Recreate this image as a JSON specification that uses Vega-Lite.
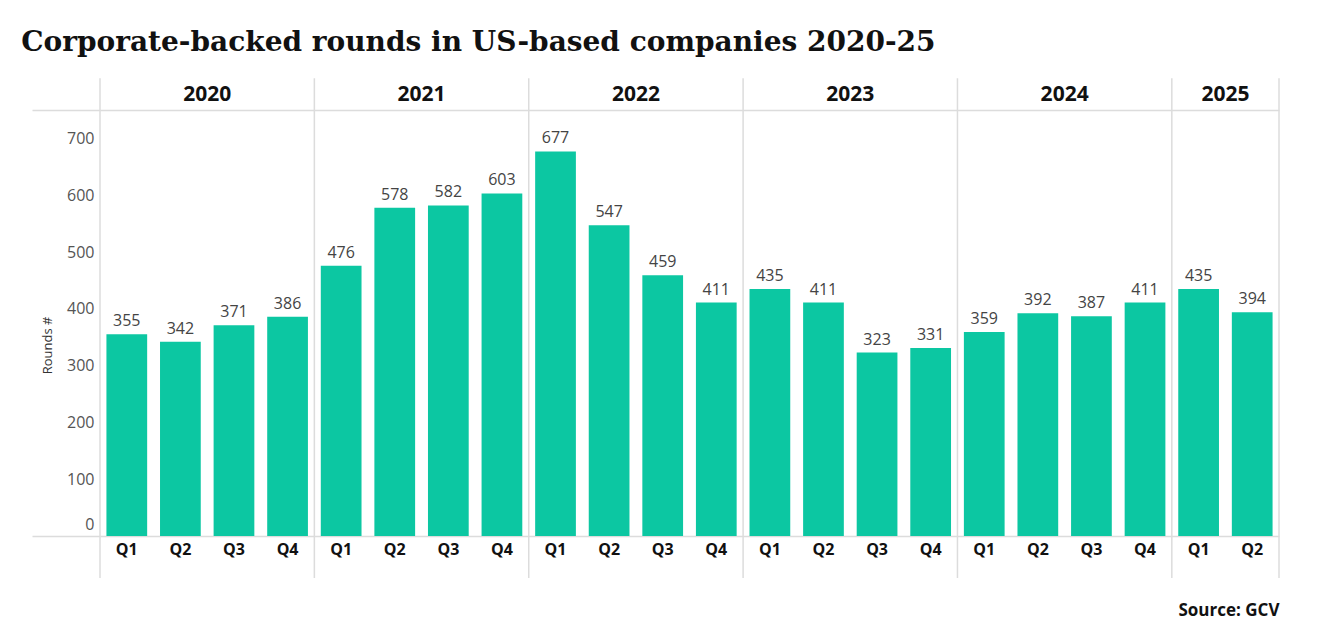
{
  "$schema": "https://vega.github.io/schema/vega-lite/v6.json",
  "autosize": {"type": "none"},
  "padding": {"left": 100, "top": 110, "right": 43, "bottom": 100},
  "width": 1179,
  "height": 426,
  "background": "white",
  "title": {
    "text": "Corporate-backed rounds in US-based companies 2020-25",
    "anchor": "start",
    "font": "DejaVu Serif",
    "fontSize": 28,
    "fontWeight": "bold",
    "color": "#111111",
    "dx": -10,
    "offset": 20
  },
  "config": {"view": {"stroke": null}, "font": "Open Sans"},
  "datasets": {
    "bars": [
      {"q": "2020-Q1", "year": "2020", "value": 355},
      {"q": "2020-Q2", "year": "2020", "value": 342},
      {"q": "2020-Q3", "year": "2020", "value": 371},
      {"q": "2020-Q4", "year": "2020", "value": 386},
      {"q": "2021-Q1", "year": "2021", "value": 476},
      {"q": "2021-Q2", "year": "2021", "value": 578},
      {"q": "2021-Q3", "year": "2021", "value": 582},
      {"q": "2021-Q4", "year": "2021", "value": 603},
      {"q": "2022-Q1", "year": "2022", "value": 677},
      {"q": "2022-Q2", "year": "2022", "value": 547},
      {"q": "2022-Q3", "year": "2022", "value": 459},
      {"q": "2022-Q4", "year": "2022", "value": 411},
      {"q": "2023-Q1", "year": "2023", "value": 435},
      {"q": "2023-Q2", "year": "2023", "value": 411},
      {"q": "2023-Q3", "year": "2023", "value": 323},
      {"q": "2023-Q4", "year": "2023", "value": 331},
      {"q": "2024-Q1", "year": "2024", "value": 359},
      {"q": "2024-Q2", "year": "2024", "value": 392},
      {"q": "2024-Q3", "year": "2024", "value": 387},
      {"q": "2024-Q4", "year": "2024", "value": 411},
      {"q": "2025-Q1", "year": "2025", "value": 435},
      {"q": "2025-Q2", "year": "2025", "value": 394}
    ],
    "years": [
      {"year": "2020", "first": "2020-Q1", "mid": "2020-Q2", "last": "2020-Q4"},
      {"year": "2021", "first": "2021-Q1", "mid": "2021-Q2", "last": "2021-Q4"},
      {"year": "2022", "first": "2022-Q1", "mid": "2022-Q2", "last": "2022-Q4"},
      {"year": "2023", "first": "2023-Q1", "mid": "2023-Q2", "last": "2023-Q4"},
      {"year": "2024", "first": "2024-Q1", "mid": "2024-Q2", "last": "2024-Q4"},
      {"year": "2025", "first": "2025-Q1", "mid": "2025-Q1", "last": "2025-Q2"}
    ]
  },
  "layer": [
    {
      "data": {"name": "bars"},
      "mark": {"type": "bar", "width": {"band": 0.76}, "color": "#0cc7a2"},
      "encoding": {
        "x": {
          "field": "q",
          "type": "nominal",
          "scale": {"paddingInner": 0, "paddingOuter": 0},
          "axis": {
            "labelExpr": "substring(datum.value, 5)",
            "labelAngle": 0,
            "labelFont": "Open Sans",
            "labelFontSize": 16,
            "labelFontWeight": "bold",
            "labelColor": "#111111",
            "labelPadding": 5,
            "ticks": false,
            "domain": false,
            "grid": false,
            "title": "Source: GCV",
            "titleAnchor": "end",
            "titleAlign": "right",
            "titleFont": "Open Sans",
            "titleFontSize": 17,
            "titleFontWeight": "bold",
            "titleColor": "#111111",
            "titlePadding": 45
          }
        },
        "y": {
          "field": "value",
          "type": "quantitative",
          "scale": {"domain": [0, 750], "nice": false},
          "axis": {
            "values": [0, 100, 200, 300, 400, 500, 600, 700, 750],
            "labelExpr": "datum.value == 750 ? '' : datum.label",
            "labelFont": "Open Sans",
            "labelFontSize": 16,
            "labelColor": "#555555",
            "labelFlush": true,
            "labelFlushOffset": -4,
            "ticks": true,
            "tickSize": 68,
            "tickColor": "#dcdcdc",
            "tickWidth": 1.5,
            "tickOpacity": {"condition": {"test": "datum.value == 0 || datum.value == 750", "value": 1}, "value": 0},
            "labelPadding": -62,
            "domain": false,
            "grid": true,
            "gridColor": "#dcdcdc",
            "gridWidth": 1.5,
            "gridOpacity": {"condition": {"test": "datum.value == 0 || datum.value == 750", "value": 1}, "value": 0},
            "title": "Rounds #",
            "titleFont": "Open Sans",
            "titleFontSize": 13,
            "titleFontWeight": "normal",
            "titleColor": "#333333",
            "titleX": -53,
            "titleY": 235,
            "titleAngle": -90,
            "titleAlign": "center",
            "titleBaseline": "middle"
          }
        }
      }
    },
    {
      "data": {"name": "bars"},
      "mark": {"type": "text", "baseline": "bottom", "dy": -5, "fontSize": 16, "font": "Open Sans", "color": "#444444"},
      "encoding": {
        "x": {"field": "q", "type": "nominal"},
        "y": {"field": "value", "type": "quantitative"},
        "text": {"field": "value", "type": "quantitative"}
      }
    },
    {
      "data": {"name": "years"},
      "mark": {"type": "rule", "color": "#dcdcdc", "strokeWidth": 1.5},
      "encoding": {
        "x": {"field": "first", "type": "nominal", "bandPosition": 0},
        "y": {"datum": -74},
        "y2": {"datum": 806}
      }
    },
    {
      "data": {"name": "years"},
      "transform": [{"filter": "datum.year == '2025'"}],
      "mark": {"type": "rule", "color": "#dcdcdc", "strokeWidth": 1.5},
      "encoding": {
        "x": {"field": "last", "type": "nominal", "bandPosition": 1},
        "y": {"datum": -74},
        "y2": {"datum": 806}
      }
    },
    {
      "data": {"name": "years"},
      "mark": {"type": "text", "baseline": "middle", "align": "center", "fontSize": 21, "fontWeight": "bold", "font": "Open Sans", "color": "#111111"},
      "encoding": {
        "x": {"field": "mid", "type": "nominal", "bandPosition": 1},
        "y": {"datum": 776},
        "text": {"field": "year", "type": "nominal"}
      }
    }
  ]
}
